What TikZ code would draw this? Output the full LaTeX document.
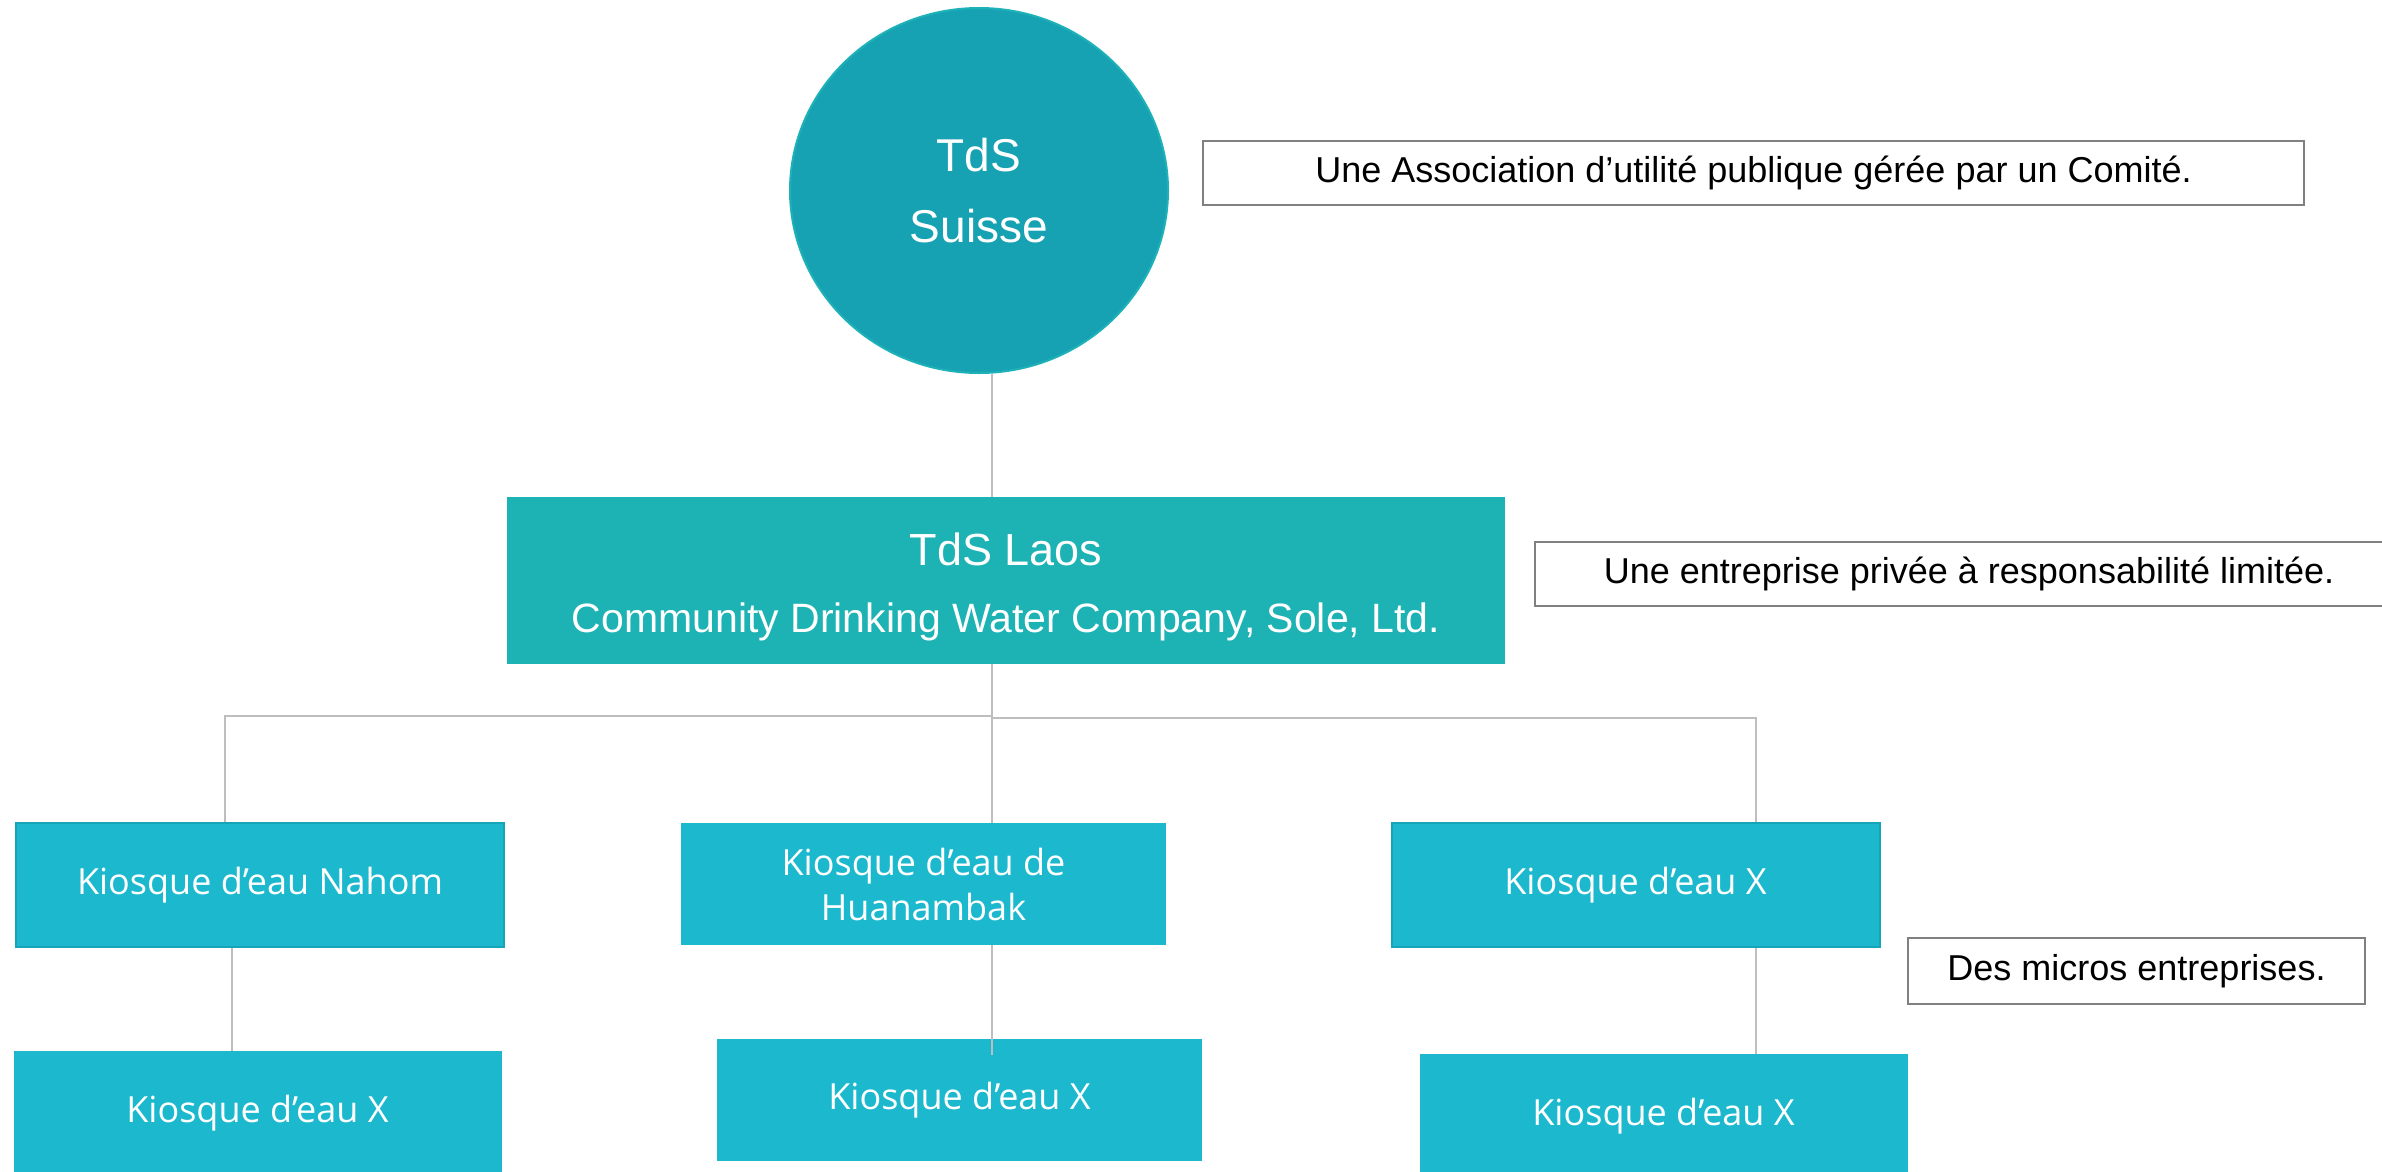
\documentclass[tikz,border=0pt]{standalone}
\usepackage{fontspec}
\usetikzlibrary{shapes.geometric}
\setmainfont{Liberation Sans}
\newfontfamily\kioskfont{Open Sans}
\definecolor{suisseteal}{RGB}{22,162,179}
\definecolor{suisseedge}{RGB}{30,178,184}
\definecolor{laosteal}{RGB}{29,178,180}
\definecolor{kioskblue}{RGB}{28,185,206}
\definecolor{kioskedge}{RGB}{22,164,184}
\definecolor{linkgray}{RGB}{190,190,190}
\definecolor{notegray}{RGB}{128,128,128}

\begin{document}
\begin{tikzpicture}[x=1pt,y=-1pt,
  suisse/.style={ellipse,fill=suisseteal,draw=suisseedge,line width=2pt,minimum width=378pt,minimum height=365pt,inner sep=0pt,
    text=white,align=center,font=\fontsize{46}{71}\selectfont},
  laosbox/.style={fill=laosteal,minimum width=998pt,minimum height=167pt,inner sep=0pt,
    text=white,align=center,font=\fontsize{41}{67}\selectfont},
  kiosk/.style={fill=kioskblue,minimum width=488pt,minimum height=124pt,inner sep=0pt,
    text=white,align=center,font=\kioskfont\fontsize{36}{45}\selectfont},
  note/.style={fill=white,draw=notegray,line width=2pt,minimum height=64pt,inner sep=0pt,
    font=\fontsize{36}{43}\selectfont},
  link/.style={draw=linkgray,line width=2pt}]
\useasboundingbox (0,0) rectangle (2382,1171);
% head office and the company in Laos
\node[suisse] (tds) at (979,190.5) {TdS\\Suisse};
\node[laosbox] (laos) at (1006,580.5) {{\fontsize{45}{67}\selectfont\rule{0pt}{45pt}TdS Laos}\\Community Drinking Water Company, Sole, Ltd.};
% kiosks
\node[kiosk,draw=kioskedge,line width=2pt] (nahom) at (260,885) {Kiosque d’eau Nahom};
\node[kiosk,minimum height=122pt,minimum width=485pt] (huan) at (923.5,884) {Kiosque d’eau de\\Huanambak};
\node[kiosk,draw=kioskedge,line width=2pt] (kioskc) at (1635.5,885) {Kiosque d’eau X};
\node[kiosk] (nahomx) at (257.5,1113) {Kiosque d’eau X};
\node[kiosk,minimum height=122pt,minimum width=485pt] (huanx) at (959.5,1100) {Kiosque d’eau X};
\node[kiosk] (kioskcx) at (1663.5,1116) {Kiosque d’eau X};
% side notes
\node[note,minimum width=1101pt] (note1) at (1753.5,173) {Une Association d’utilité publique gérée par un Comité.};
\node[note,minimum width=868pt] (note2) at (1969,574) {Une entreprise privée à responsabilité limitée.};
\node[note,minimum width=457pt,minimum height=66pt] (note3) at (2136.5,971) {Des micros entreprises.};
% connectors
\coordinate (trunk) at (992,0);
\coordinate (leftdrop) at (225,0);
\coordinate (rightdrop) at (1756,0);
\coordinate (nahomdrop) at (232,0);
\coordinate (forkL) at (992,716);
\coordinate (forkR) at (992,718);
\draw[link] (tds.south -| trunk) -- (laos.north -| trunk);
\draw[link] (laos.south -| trunk) -- (huan.north -| trunk);
\draw[link] (forkL) -| (nahom.north -| leftdrop);
\draw[link] (forkR) -| (kioskc.north -| rightdrop);
\draw[link] (nahom.south -| nahomdrop) -- (nahomx.north -| nahomdrop);
\draw[link] (huan.south -| trunk) -- ([yshift=-16pt]huanx.north -| trunk);
\draw[link] (kioskc.south -| rightdrop) -- (kioskcx.north -| rightdrop);
\end{tikzpicture}
\end{document}
